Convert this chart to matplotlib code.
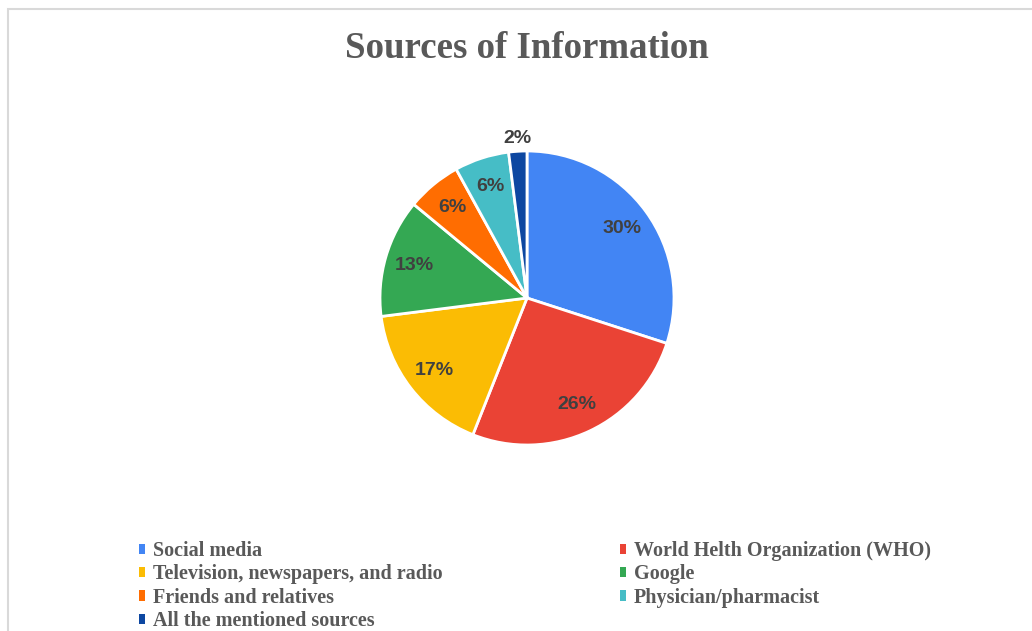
import matplotlib.pyplot as plt
from matplotlib.patches import Rectangle, Patch
import numpy as np

# data
sources = ['Social media', 'World Helth Organization (WHO)', 'Television, newspapers, and radio',
           'Google', 'Friends and relatives', 'Physician/pharmacist', 'All the mentioned sources']
shares = [30, 26, 17, 13, 6, 6, 2]
colors = ['#4285F4', '#EA4335', '#FBBC04', '#34A853', '#FF6D01', '#46BDC6', '#0D47A1']

W, H = 1032, 631
fig = plt.figure(figsize=(W / 100, H / 100), dpi=100)

# light frame on the top/left edge
fig.patches.append(Rectangle((8 / W, -0.1), 1.2, (H - 9) / H + 0.1, transform=fig.transFigure,
                             fill=False, edgecolor='#D9D9D9', linewidth=1.5))

fig.text(527 / W, 1 - 49 / H, 'Sources of Information', ha='center', va='center',
         family='Liberation Serif', fontweight='bold', fontsize=26.6, color='#595959')

cx, cy, r = 527, 298, 147
ax = fig.add_axes([(cx - r) / W, (H - cy - r) / H, 2 * r / W, 2 * r / H])
wedges, texts, autotexts = ax.pie(shares, colors=colors, startangle=90, counterclock=False,
                                  autopct='%1.0f%%', pctdistance=0.8,
                                  wedgeprops=dict(edgecolor='white', linewidth=2),
                                  textprops=dict(family='Liberation Sans', fontweight='bold',
                                                 fontsize=14, color='#404040'))
ax.set_xlim(-1, 1)
ax.set_ylim(-1, 1)
ax.axis('off')

# tiny slice label sits outside
w = wedges[-1]
mid = np.deg2rad((w.theta1 + w.theta2) / 2)
autotexts[-1].set_position((1.09 * np.cos(mid), 1.09 * np.sin(mid)))

order = [0, 2, 4, 6, 1, 3, 5]
handles = [Patch(facecolor=colors[i], edgecolor='none') for i in order]
labels = [sources[i] for i in order]
leg = fig.legend(handles, labels, ncol=2, loc='upper left', bbox_to_anchor=(139 / W, 1 - 541 / H),
                 frameon=False, borderpad=0, borderaxespad=0, handlelength=0.3, handleheight=0.4,
                 handletextpad=0.4, columnspacing=8.8, labelspacing=0.165,
                 prop=dict(family='Liberation Serif', weight='bold', size=14.5))
for t in leg.get_texts():
    t.set_color('#595959')

fig.savefig('out.png', dpi=100)
